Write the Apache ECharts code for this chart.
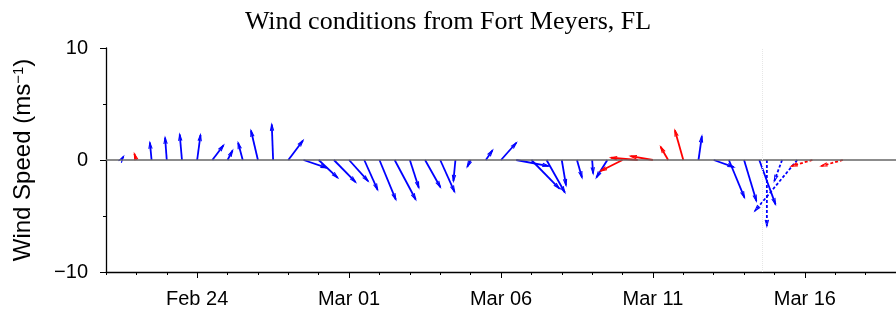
<!DOCTYPE html>
<html>
<head>
<meta charset="utf-8">
<script src="https://cdn.jsdelivr.net/npm/echarts@6/dist/echarts.min.js"></script>
<style>
  html, body { margin: 0; padding: 0; background: #fff; }
  #chart { width: 896px; height: 317px; }
</style>
</head>
<body>
<div id="chart"></div>
<script>
// x is measured in days from Feb 21 00:00
const tickDays = [3, 8, 13, 18, 23];
const tickLabels = ['Feb 24', 'Mar 01', 'Mar 06', 'Mar 11', 'Mar 16'];

// observed winds, every 12 h (u east, v north, m/s); flag 1 = red arrow
const obsDay = [0.5, 1, 1.5, 2, 2.5, 3, 3.5, 4, 4.5, 5, 5.5, 6, 6.5, 7, 7.5, 8, 8.5, 9, 9.5, 10, 10.5,
  11, 11.5, 12, 12.5, 13, 13.5, 14, 14.5, 15, 15.5, 16, 16.5, 17, 17.5, 18, 18.5, 19, 19.5, 20, 20.5, 21, 21.5];
const obsU = [0.2, -0.18, -0.15, -0.15, -0.2, 0.3, 1.0, 0.45, -0.41, -0.62, -0.12, 1.31, 2.08, 1.7, 1.94,
  1.7, 1.19, 1.46, 1.88, 0.8, 1.37, 1.28, -0.18, -0.3, 0.6, 1.37, 2.9, 2.5, 1.63, 0.38, 0.45, 0.09,
  -0.98, -1.96, -2.4, -2.0, -0.67, -0.75, 0.3, 1.79, 1.39, 1.1, 1.45];
const obsV = [0.3, 0.56, 1.56, 2.0, 2.28, 2.25, 1.32, 0.85, 1.54, 2.63, 3.17, 1.74, -0.7, -1.59, -1.98,
  -1.89, -2.66, -3.53, -3.53, -2.48, -2.43, -2.84, -1.89, -0.61, 0.87, 1.54, -0.54, -2.55, -2.9, -2.26,
  -1.57, -1.21, -1.57, -0.98, 0.2, 0.34, 1.18, 2.66, 2.13, -0.63, -3.36, -3.66, -3.96];
const obsFlag = [0, 1, 0, 0, 0, 0, 0, 0, 0, 0, 0, 0, 0, 0, 0, 0, 0, 0, 0, 0, 0, 0, 0, 0, 0, 0, 0, 0, 0, 0,
  0, 0, 0, 1, 1, 1, 1, 1, 0, 0, 0, 0, 0];

// forecast winds (dashed)
const fcDay = [21.75, 22.25, 22.75, 23.25, 24.25];
const fcU = [0, -0.69, -3.78, -1.88, -1.93];
const fcV = [-5.9, -1.88, -4.55, -0.54, -0.54];
const fcFlag = [0, 0, 0, 1, 1];

const nowDay = 21.6;

const colors = ['#0000ff', '#ff0000'];

function rows(day, u, v, flag) {
  return day.map((d, i) => [d, u[i], v[i], flag[i]]);
}

function arrowRenderer(dashed) {
  return function (params, api) {
    const t = api.value(0), u = api.value(1), v = api.value(2), f = api.value(3);
    const base = api.coord([t, 0]);
    const unit = api.size([0, 1])[1]; // pixels per m/s
    const tip = [base[0] + u * unit, base[1] - v * unit];
    const a = Math.atan2(tip[1] - base[1], tip[0] - base[0]);
    const L = 6.5, phi = 0.26;
    const h1 = [tip[0] - L * Math.cos(a - phi), tip[1] - L * Math.sin(a - phi)];
    const h2 = [tip[0] - L * Math.cos(a + phi), tip[1] - L * Math.sin(a + phi)];
    const style = {
      stroke: colors[f], lineWidth: 1.8, fill: null,
      lineDash: dashed ? [3, 2] : null
    };
    return {
      type: 'group',
      children: [
        { type: 'line', shape: { x1: base[0], y1: base[1], x2: tip[0], y2: tip[1] }, style: style },
        { type: 'polyline', shape: { points: [h1, tip, h2] }, style: { stroke: colors[f], lineWidth: 1.1, fill: null } }
      ]
    };
  };
}

var chart = echarts.init(document.getElementById('chart'));

let option = {
  animation: false,
  title: {
    text: 'Wind conditions from Fort Meyers, FL',
    left: 'center',
    top: 4,
    textStyle: { fontFamily: 'Liberation Serif', fontSize: 26, fontWeight: 'normal', color: '#000' }
  },
  grid: { left: 106, right: 0, top: 48, bottom: 45, containLabel: false, outerBoundsMode: 'none' },
  xAxis: [{
    type: 'value', min: 0, max: 26, interval: 1,
    axisLine: { show: true, onZero: false, lineStyle: { color: '#000', width: 1.3 } },
    axisTick: { show: true, length: 3, lineStyle: { color: '#000' } },
    axisLabel: { show: false },
    splitLine: { show: false }
  }, {
    type: 'value', min: 0, max: 26, position: 'bottom',
    axisLine: { show: false, onZero: false },
    axisTick: { show: true, length: 6, customValues: tickDays, lineStyle: { color: '#000' } },
    axisLabel: {
      customValues: tickDays,
      formatter: v => tickLabels[tickDays.indexOf(v)] || '',
      fontFamily: 'Liberation Sans', fontSize: 20, color: '#000', margin: 17
    },
    splitLine: { show: false }
  }],
  yAxis: {
    type: 'value', min: -10, max: 10, interval: 10,
    axisLine: { show: true, onZero: false, lineStyle: { color: '#000', width: 1.3 } },
    axisTick: { show: true, length: 6, lineStyle: { color: '#000' } },
    minorTick: { show: true, splitNumber: 2, length: 3, lineStyle: { color: '#000' } },
    splitLine: { show: false },
    axisLabel: {
      fontFamily: 'Liberation Sans', fontSize: 20, color: '#000', margin: 18,
      formatter: v => (v < 0 ? '\u2212' + (-v) : String(v))
    },
    name: 'Wind Speed (ms{sup|\u22121})',
    nameLocation: 'middle',
    nameGap: 70,
    nameTextStyle: {
      fontFamily: 'Liberation Sans', fontSize: 24, color: '#000',
      rich: { sup: { fontFamily: 'Liberation Sans', fontSize: 15, padding: [0, 0, 10, 0] } }
    }
  },
  series: [{
    type: 'custom',
    name: 'observed',
    renderItem: arrowRenderer(false),
    encode: { x: 0, y: 2 },
    data: rows(obsDay, obsU, obsV, obsFlag),
    z: 3,
    markLine: {
      silent: true, symbol: 'none', label: { show: false },
      data: [
        { yAxis: 0, lineStyle: { color: '#666', width: 1.6, type: 'solid' } },
        { xAxis: nowDay, lineStyle: { color: '#e6e6e6', width: 1, type: 'dotted' } }
      ]
    }
  }, {
    type: 'custom',
    name: 'forecast',
    renderItem: arrowRenderer(true),
    encode: { x: 0, y: 2 },
    data: rows(fcDay, fcU, fcV, fcFlag),
    z: 3
  }]
};
chart.setOption(option);
</script>
</body>
</html>
